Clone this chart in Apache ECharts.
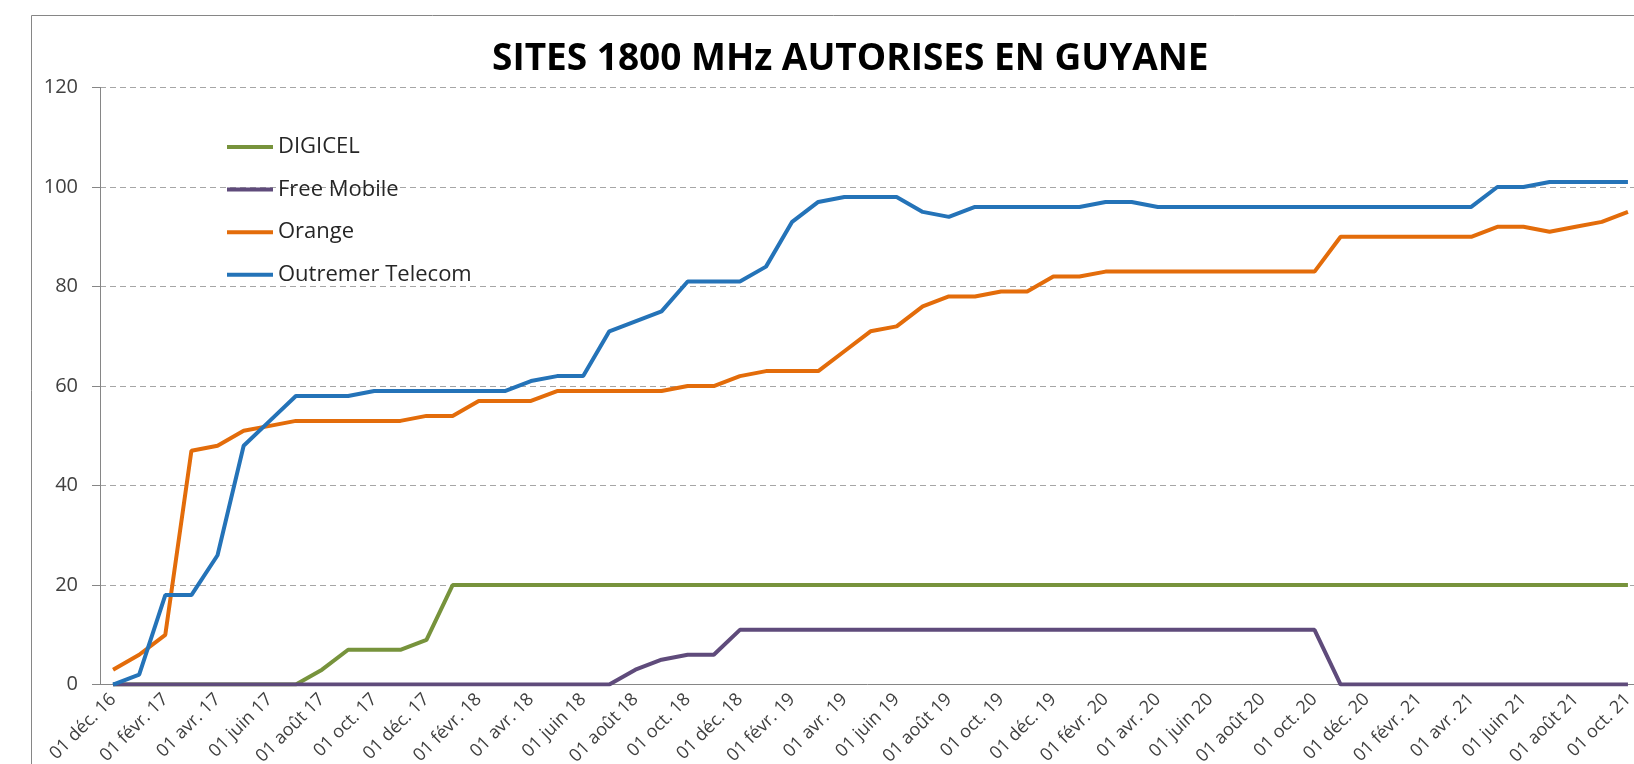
<html lang="fr">
  <head>
    <meta charset="utf-8">
    <title>Sites 1800 MHz autorises en Guyane</title>
    <script type="text/javascript" src="https://cdn.jsdelivr.net/npm/echarts@6.0.0/dist/echarts.min.js"></script>
    <style>
      html, body { margin: 0; padding: 0; background: #fff; }
      #chart { width: 1634px; height: 764px; }
    </style>
  </head>
  <body>
    <div id="chart"></div>
    <script>
      // mois (un point par mois, de déc. 16 à oct. 21)
      var months = [
        '01 déc. 16', '01 janv. 17', '01 févr. 17', '01 mars 17', '01 avr. 17', '01 mai 17',
        '01 juin 17', '01 juil. 17', '01 août 17', '01 sept. 17', '01 oct. 17', '01 nov. 17',
        '01 déc. 17', '01 janv. 18', '01 févr. 18', '01 mars 18', '01 avr. 18', '01 mai 18',
        '01 juin 18', '01 juil. 18', '01 août 18', '01 sept. 18', '01 oct. 18', '01 nov. 18',
        '01 déc. 18', '01 janv. 19', '01 févr. 19', '01 mars 19', '01 avr. 19', '01 mai 19',
        '01 juin 19', '01 juil. 19', '01 août 19', '01 sept. 19', '01 oct. 19', '01 nov. 19',
        '01 déc. 19', '01 janv. 20', '01 févr. 20', '01 mars 20', '01 avr. 20', '01 mai 20',
        '01 juin 20', '01 juil. 20', '01 août 20', '01 sept. 20', '01 oct. 20', '01 nov. 20',
        '01 déc. 20', '01 janv. 21', '01 févr. 21', '01 mars 21', '01 avr. 21', '01 mai 21',
        '01 juin 21', '01 juil. 21', '01 août 21', '01 sept. 21', '01 oct. 21'
      ];

      var digicel = [
        0, 0, 0, 0, 0, 0, 0, 0, 3, 7, 7, 7,
        9, 20, 20, 20, 20, 20, 20, 20, 20, 20, 20, 20,
        20, 20, 20, 20, 20, 20, 20, 20, 20, 20, 20, 20,
        20, 20, 20, 20, 20, 20, 20, 20, 20, 20, 20, 20,
        20, 20, 20, 20, 20, 20, 20, 20, 20, 20, 20
      ];
      var freeMobile = [
        0, 0, 0, 0, 0, 0, 0, 0, 0, 0, 0, 0,
        0, 0, 0, 0, 0, 0, 0, 0, 3, 5, 6, 6,
        11, 11, 11, 11, 11, 11, 11, 11, 11, 11, 11, 11,
        11, 11, 11, 11, 11, 11, 11, 11, 11, 11, 11, 0,
        0, 0, 0, 0, 0, 0, 0, 0, 0, 0, 0
      ];
      var orange = [
        3, 6, 10, 47, 48, 51, 52, 53, 53, 53, 53, 53,
        54, 54, 57, 57, 57, 59, 59, 59, 59, 59, 60, 60,
        62, 63, 63, 63, 67, 71, 72, 76, 78, 78, 79, 79,
        82, 82, 83, 83, 83, 83, 83, 83, 83, 83, 83, 90,
        90, 90, 90, 90, 90, 92, 92, 91, 92, 93, 95
      ];
      var outremer = [
        0, 2, 18, 18, 26, 48, 53, 58, 58, 58, 59, 59,
        59, 59, 59, 59, 61, 62, 62, 71, 73, 75, 81, 81,
        81, 84, 93, 97, 98, 98, 98, 95, 94, 96, 96, 96,
        96, 96, 97, 97, 96, 96, 96, 96, 96, 96, 96, 96,
        96, 96, 96, 96, 96, 100, 100, 101, 101, 101, 101
      ];

      var seriesNames = ['DIGICEL', 'Free Mobile', 'Orange', 'Outremer Telecom'];
      var seriesColors = ['#77933C', '#5F4B7B', '#E36C0A', '#2473B8'];
      var seriesData = [digicel, freeMobile, orange, outremer];

      var font = 'Open Sans';
      var chart = echarts.init(document.getElementById('chart'));

      var series = [];
      for (var i = 0; i < seriesNames.length; i++) {
        series.push({
          name: seriesNames[i],
          type: 'line',
          data: seriesData[i],
          symbol: 'none',
          showSymbol: false,
          smooth: false,
          color: seriesColors[i],
          lineStyle: { width: 4, color: seriesColors[i] },
          emphasis: { disabled: true }
        });
      }

      chart.setOption({
        animation: false,
        title: {
          text: 'SITES 1800 MHz AUTORISES EN GUYANE',
          left: 492,
          top: 41,
          padding: 0,
          textStyle: { fontFamily: font, fontWeight: 'bold', fontSize: 37, color: '#000' }
        },
        legend: {
          data: seriesNames,
          orient: 'vertical',
          left: 227,
          top: 136,
          padding: 0,
          icon: 'rect',
          itemWidth: 46,
          itemHeight: 4,
          itemGap: 20.6,
          itemStyle: { borderWidth: 0 },
          textStyle: { fontFamily: font, fontSize: 22, color: '#262626', lineHeight: 22 }
        },
        grid: {
          left: 100,
          top: 87.5,
          right: -7,
          bottom: 79.4,
          containLabel: false,
          outerBoundsMode: 'none'
        },
        xAxis: {
          type: 'category',
          data: months,
          boundaryGap: true,
          axisLine: { lineStyle: { color: '#868686', width: 1 } },
          axisTick: { interval: 1, length: 6, lineStyle: { color: '#868686' } },
          axisLabel: {
            interval: 1,
            rotate: 45,
            margin: 12,
            fontFamily: font,
            fontSize: 18,
            color: '#404040'
          }
        },
        yAxis: {
          type: 'value',
          min: 0,
          max: 120,
          interval: 20,
          axisLine: { show: true, lineStyle: { color: '#868686', width: 1 } },
          axisTick: { show: true, length: 8, lineStyle: { color: '#868686' } },
          axisLabel: { margin: 22, fontFamily: font, fontSize: 20, color: '#404040' },
          splitLine: { lineStyle: { color: '#a6a6a6', type: [6, 4], width: 1 } }
        },
        graphic: [{
          type: 'rect',
          silent: true,
          shape: { x: 31.5, y: 15.5, width: 1700, height: 800 },
          style: { fill: null, stroke: '#868686', lineWidth: 1 }
        }],
        series: series
      });
    </script>
  </body>
</html>
